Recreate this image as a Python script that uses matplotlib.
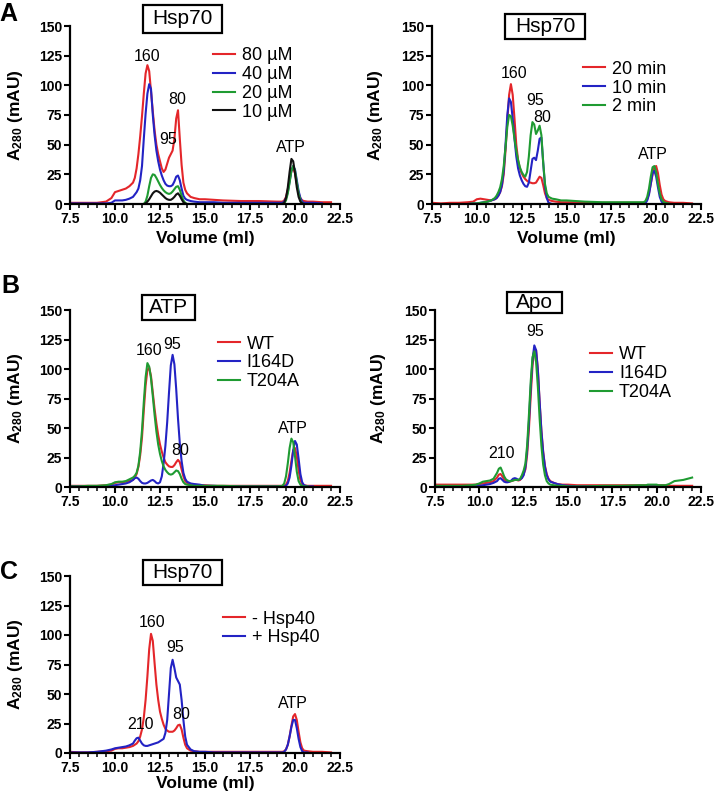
import numpy as np
import matplotlib.pyplot as plt
from matplotlib.patches import Rectangle
from matplotlib.ticker import MultipleLocator

N = np.nan  # no trace recorded at this volume

# elution volume grid (ml), shared by every trace
VOL = [7.5, 8.0, 8.5, 9.0, 9.5, 9.8, 10.0, 10.2, 10.4, 10.6, 10.8,
       11.0, 11.1, 11.2, 11.3, 11.4, 11.5, 11.6, 11.7, 11.8, 11.9, 12.0, 12.1, 12.2, 12.3, 12.4, 12.5,
       12.6, 12.7, 12.8, 12.9, 13.0, 13.1, 13.2, 13.3, 13.4, 13.5, 13.6, 13.7, 13.8, 13.9, 14.0,
       14.2, 14.4, 14.7, 15.0, 15.5, 16.0, 17.0, 18.0, 19.0,
       19.3, 19.4, 19.5, 19.6, 19.7, 19.8, 19.9, 20.0, 20.1, 20.2, 20.3, 20.4, 20.5, 20.7, 21.0, 21.5, 22.0]

# --- A, left: Hsp70 concentration series (A280, mAU) ---
a_80uM = [1, 1, 1, 1, 2, 5, 10, 11, 12, 13, 15,
          18, 22, 30, 42, 57, 74, 93, 110, 117, 112, 95, 78, 62, 50, 42, 36,
          30, 27, 29, 34, 39, 42, 45, 55, 72, 79, 55, 33, 18, 12, 9,
          6, 5, 4, 4, 3.5, 3, 2.5, 2.5, 2,
          2, 3, 6, 12, 21, 28, 30, 26, 17, 9, 5, 3, 2.5, 2, 2, 1.5, 1.5]
a_40uM = [0.5, 0.5, 0.5, 0.5, 0.5, 1, 3, 3, 3, 3.5, 4.5,
          6, 8, 10, 13, 20, 32, 55, 76, 93, 101, 97, 75, 58, 45, 36, 29,
          24, 20, 17, 15.5, 15, 15, 16, 19, 23, 24, 20, 13, 7, 4.5, 3.5,
          2.5, 2, 1.5, 1.5, 1.5, 1, 1, 1, 1,
          1, 2, 5, 10, 19, 28, 32, 29, 20, 11, 5, 2, 1, 1, 1, 0.5, N]
a_20uM = [N, N, N, N, N, N, N, N, N, N, N,
          N, N, N, N, N, N, 0, 2, 7, 15, 22, 25, 24.5, 22, 19, 16,
          13.5, 11.5, 10, 9, 8.5, 9, 10.5, 12.5, 14.5, 15, 12, 7, 3, 1, 0,
          0, 0, 0, 0, 0, 0, 0, 0, 0,
          0, 0.5, 3, 9, 18, 28, 32, 28, 18, 9, 3, 0.5, 0, N, N, N, N]
a_10uM = [N, N, N, N, N, N, N, N, N, N, N,
          N, N, N, N, N, N, 0, 0.5, 2, 4, 6.5, 9, 10.5, 11, 10.5, 9.5,
          8, 6.5, 5, 4, 3.5, 3.5, 4.5, 6, 8, 9, 7, 4, 1.5, 0.5, 0,
          0, 0, 0, 0, 0, 0, 0, 0, 0,
          0, 1, 5, 14, 27, 38, 36, 26, 14, 6, 2, 0.5, 0, N, N, N, N]

# --- A, right: Hsp70 time series ---
t_20min = [1, 0.5, 1, 1, 1.5, 2, 4, 4.5, 4, 3.5, 3,
           4, 5, 7, 10, 15, 25, 45, 70, 92, 101, 92, 72, 50, 37, 30, 26,
           23, 21, 19.5, 18.5, 18, 17.5, 17.5, 18, 20.5, 23, 22, 16, 9, 5, 3.5,
           2.5, 2, 1.5, 1.5, 1.5, 1, 1, 1, 1,
           1, 1.5, 4, 9, 17, 25, 31, 32, 26, 16, 8, 4, 2.5, 1.5, 1, 1, 0.5]
t_10min = [N, N, N, N, 0, 0.5, 0.5, 1, 1.5, 2, 3,
           4, 5, 7, 10, 16, 28, 50, 75, 89, 86, 72, 55, 40, 30, 24, 20,
           17, 15, 14.5, 18, 28, 38, 39, 37, 45, 55, 56, 35, 15, 5, 1,
           0, 0, 0, 0, 0, 0, 0, 0, 0,
           0, 0.5, 3, 8, 17, 26, 28, 23, 14, 6, 2, 0.5, 0, N, N, N, N]
t_2min = [N, N, N, N, 0, 0.5, 0.5, 1, 1.5, 2, 3,
          5, 7, 10, 14, 21, 32, 48, 65, 75, 74, 66, 55, 45, 37, 31, 27,
          24.5, 23, 27, 40, 58, 69, 67, 59, 62, 66, 58, 35, 17, 9, 6,
          4.5, 4, 3, 3, 2.5, 2, 1.5, 1.5, 1.5,
          1.5, 2.5, 6, 13, 23, 31, 32, 27, 17, 9, 4, 2, 1, 0.5, N, N, N]

# --- B, left: mutants with ATP ---
atp_wt = [1, 1, 1, 1, 1.5, 2, 3.5, 4, 4, 4.5, 5,
          6, 8, 11, 17, 27, 42, 65, 86, 99, 101, 94, 80, 66, 54, 44, 36,
          30, 25, 21, 19, 17.5, 17, 17, 18.5, 21, 23, 21, 15, 9, 5, 3.5,
          2.5, 2, 1.5, 1.5, 1, 1, 1, 1, 1,
          1, 1, 2, 5, 12, 22, 31, 33, 26, 14, 6, 2.5, 1.5, 1, 1, 1, 1]
atp_i164d = [0.5, 0.5, 0.5, 0.5, 0.5, 1, 1.5, 2, 2.5, 3, 4,
             6, 7.5, 8, 7, 5, 3.5, 3, 3, 3.5, 4.5, 5.5, 6, 5, 3.5, 3, 4,
             9, 20, 35, 55, 80, 103, 112, 104, 83, 58, 37, 22, 12, 7, 4.5,
             3, 2.5, 2, 1, 1, 0.5, 0.5, 0.5, 0.5,
             0.5, 0.5, 1, 3, 8, 18, 31, 39, 36, 24, 11, 4, 1.5, 0.5, 0.5, N, N]
atp_t204a = [0.5, 0.5, 1, 1, 1.5, 2.5, 4, 4.5, 4.5, 5, 6.5,
             8, 9.5, 12, 18, 30, 48, 72, 93, 105, 102, 92, 77, 61, 47, 36, 28,
             22, 17.5, 14.5, 12.5, 11, 10.5, 11, 12.5, 14, 13.5, 11, 7, 4, 2.5, 2,
             1.5, 1, 1, 1, 1, 1, 0.5, 0.5, 0.5,
             1, 3, 9, 20, 33, 41, 38, 26, 13, 5, 2, 1, 0.5, 0.5, N, N, N]

# --- B, right: mutants, apo ---
apo_wt = [2, 2, 2, 2, 2, 2, 2.5, 3, 3.5, 4, 5,
          8, 10.5, 11, 9, 6.5, 5, 4.5, 4.5, 5, 5.5, 6, 6, 5.5, 6, 8, 11,
          15, 28, 50, 78, 103, 117, 116, 100, 72, 48, 30, 18, 11, 7, 5,
          3.5, 2.5, 2, 2, 1.5, 1.5, 1.5, 1.5, 1.5,
          1.5, 1.5, 1.5, 1.5, 1.5, 1.5, 1.5, 1.5, 1.5, 1.5, 1.5, 1.5, 1.5, 1, 1, 1, 1]
apo_i164d = [0.5, 0.5, 0.5, 0.5, 0.5, 0.5, 1, 1.5, 2, 2.5, 3.5,
             5, 7, 7.5, 6, 4.5, 4, 4, 4.5, 5.5, 7, 7.5, 7, 6, 6.5, 7.5, 10,
             17, 32, 56, 85, 108, 120, 116, 99, 72, 47, 29, 17, 10, 6.5, 4.5,
             3.5, 2.5, 1.5, 1, 0.5, 0.5, 0.5, 0.5, 0.5,
             0.5, 0.5, 0.5, 0.5, 0.5, 0.5, 0.5, 0.5, 0.5, 0.5, 0.5, 0.5, 0.5, N, N, N, N]
apo_t204a = [1, 1, 1, 1, 1.5, 2, 3, 4.5, 5, 5.5, 7,
             12, 15.5, 16.5, 13, 9, 6.5, 5.5, 5, 5, 5.5, 6, 6, 6, 7, 10, 14,
             20, 36, 62, 90, 110, 115, 106, 85, 58, 35, 19, 10, 5, 3, 2,
             1.5, 1, 1, 0.5, 0.5, 0.5, 1, 1, 1.5,
             1.5, 1.5, 2, 2, 2, 2, 2, 2, 1.5, 1.5, 1.5, 1.5, 1.5, 2.5, 5, 6, 8]

# --- C: Hsp70 without / with Hsp40 ---
minus_hsp40 = [1, 0.5, 0.5, 1, 1.5, 2, 3.5, 4, 4, 4.5, 5,
               6, 7, 8, 10, 14, 20, 30, 45, 65, 88, 101, 95, 76, 58, 45, 35,
               29, 24, 20.5, 19, 18, 18, 18, 19, 21, 23.5, 24, 20, 13, 7, 4,
               2, 1.5, 1, 1, 1, 1, 1, 1, 1,
               1, 1.5, 3, 7, 14, 23, 31, 33, 28, 18, 9, 4, 2, 1.5, 1, 1, 0.5]
plus_hsp40 = [0.5, 0.5, 0.5, 1, 2, 3, 4, 4.5, 5, 5.5, 6.5,
              8, 10.5, 12.5, 13, 10.5, 8, 6.5, 6, 6, 6.5, 7, 7.5, 8, 8.5, 9, 10,
              11, 12, 17, 28, 50, 72, 79, 72, 64, 61, 58, 45, 28, 14, 7,
              3, 1.5, 1, 1, 0.5, 0.5, 0.5, 0.5, 0.5,
              0.5, 1, 3, 7, 14, 22, 28, 28, 21, 12, 5, 1.5, 0.5, 0.5, N, N, N]

RED, BLUE, GREEN, BLACK = "#E4262A", "#2323C4", "#1F9B32", "#111111"

plt.rcParams.update({"font.family": ["Liberation Sans", "DejaVu Sans"],
                     "mathtext.fontset": "custom", "mathtext.rm": "Liberation Sans:bold",
                     "axes.spines.top": False, "axes.spines.right": False})

W, H = 716, 801
fig = plt.figure(figsize=(W / 100, H / 100), dpi=100)


def px_axes(x0, y0, x1, y1):
    return fig.add_axes([x0 / W, 1 - y1 / H, (x1 - x0) / W, (y1 - y0) / H])


def style(ax, ylab_x, xlab_y=None):
    ax.set_xlim(7.5, 22.5)
    ax.set_ylim(0, 150)
    for s in ("left", "bottom"):
        ax.spines[s].set_linewidth(1.6)
    xt = np.arange(7.5, 22.6, 2.5)
    ax.set_xticks(xt)
    ax.set_xticklabels([f"{v:.1f}" for v in xt], fontweight="bold")
    ax.xaxis.set_minor_locator(MultipleLocator(0.5))
    yt = np.arange(0, 151, 25)
    ax.set_yticks(yt)
    ax.set_yticklabels([str(v) for v in yt], fontweight="bold")
    ax.tick_params(which="major", length=4, width=1.5, labelsize=10, pad=1.5)
    ax.tick_params(which="minor", length=3, width=1.1)
    ax.set_ylabel(r"$\mathrm{A_{280}}$ (mAU)", fontsize=12.5, fontweight="bold")
    ax.yaxis.set_label_coords(ylab_x, 0.5)
    if xlab_y is not None:
        ax.set_xlabel("Volume (ml)", fontsize=12.5, fontweight="bold")
        ax.xaxis.set_label_coords(0.5, xlab_y)


def traces(ax, series, labels, colors, anchor):
    handles = []
    for ys, c in zip(series, colors):
        h, = ax.plot(VOL, np.array(ys, dtype=float), color=c, lw=1.5)
        handles.append(h)
    ax.legend(handles, labels, loc="upper left", bbox_to_anchor=anchor, frameon=False,
              fontsize=13, handlelength=1.2, handletextpad=0.4, labelspacing=0.1,
              borderpad=0, borderaxespad=0)


def peaks(ax, items):
    for x, y, t in items:
        ax.text(x, y, t, ha="center", va="center", fontsize=11.5)


def title_box(x0, y0, x1, y1, text):
    fig.patches.append(Rectangle((x0 / W, 1 - y1 / H), (x1 - x0) / W, (y1 - y0) / H,
                                 transform=fig.transFigure, fill=False, lw=1.6, ec="black"))
    fig.text((x0 + x1) / 2 / W, 1 - (y0 + y1) / 2 / H, text, ha="center", va="center", fontsize=15)


# A left
ax = px_axes(70, 26, 340, 204)
traces(ax, [a_80uM, a_40uM, a_20uM, a_10uM], ["80 \u00b5M", "40 \u00b5M", "20 \u00b5M", "10 \u00b5M"],
       [RED, BLUE, GREEN, BLACK], (0.53, 0.88))
peaks(ax, [(11.76, 124, "160"), (12.96, 54, "95"), (13.43, 88, "80"), (19.8, 48, "ATP")])
style(ax, -0.167, -0.15)
title_box(143, 5, 222, 33, "Hsp70")

# A right
ax = px_axes(432, 26, 701, 204)
traces(ax, [t_20min, t_10min, t_2min], ["20 min", "10 min", "2 min"], [RED, BLUE, GREEN], (0.561, 0.805))
peaks(ax, [(12.05, 110, "160"), (13.24, 87, "95"), (13.67, 73, "80"), (19.84, 42, "ATP")])
style(ax, -0.175, -0.15)
title_box(505, 14, 585, 39, "Hsp70")

# B left
ax = px_axes(70, 310, 340, 487)
traces(ax, [atp_wt, atp_i164d, atp_t204a], ["WT", "I164D", "T204A"], [RED, BLUE, GREEN], (0.548, 0.855))
peaks(ax, [(11.91, 116, "160"), (13.15, 121, "95"), (13.61, 31, "80"), (19.9, 50, "ATP")])
style(ax, -0.167)
title_box(142, 295, 195, 320, "ATP")

# B right
ax = px_axes(435, 310, 701, 487)
traces(ax, [apo_wt, apo_i164d, apo_t204a], ["WT", "I164D", "T204A"], [RED, BLUE, GREEN], (0.583, 0.795))
peaks(ax, [(13.14, 132, "95"), (11.26, 28, "210")])
style(ax, -0.177)
title_box(507, 292, 562, 313, "Apo")

# C
ax = px_axes(70, 576, 340, 753)
traces(ax, [minus_hsp40, plus_hsp40], ["- Hsp40", "+ Hsp40"], [RED, BLUE], (0.567, 0.805))
peaks(ax, [(12.04, 111, "160"), (13.33, 89, "95"), (11.39, 24, "210"), (13.7, 33, "80"), (19.9, 42, "ATP")])
style(ax, -0.167, -0.13)
title_box(143, 560, 222, 585, "Hsp70")

for x, y, t in [(8, 14, "A"), (10, 286, "B"), (9, 572, "C")]:
    fig.text(x / W, 1 - y / H, t, ha="center", va="center", fontsize=18, fontweight="bold")

fig.savefig("out.png", dpi=100)
